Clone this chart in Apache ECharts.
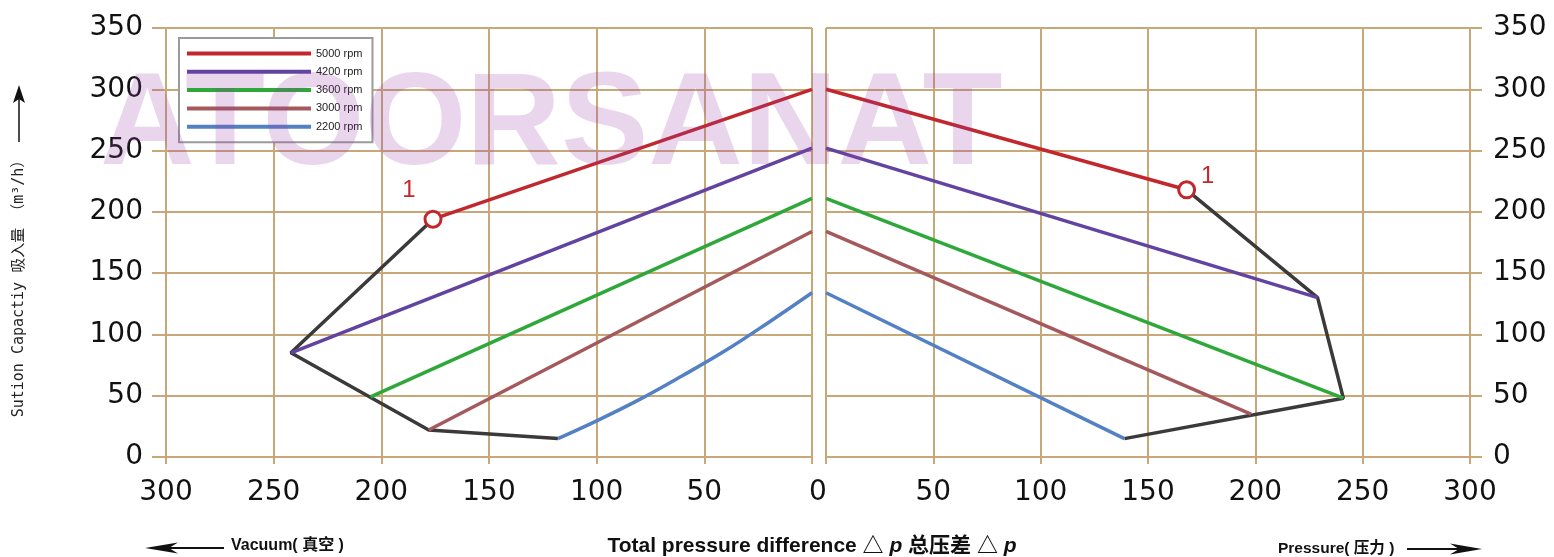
<!DOCTYPE html>
<html><head><meta charset="utf-8">
<script src="https://cdn.jsdelivr.net/npm/echarts@6/dist/echarts.min.js"></script>
<style>html,body{margin:0;padding:0;background:#fff}#c{width:1554px;height:557px}</style>
</head><body><div id="c"></div>
<script>
// ---- data ----
const xTickLabels = ['0','50','100','150','200','250','300'];
const yTickLabels = ['0','50','100','150','200','250','300','350'];
const rpmNames = ['5000 rpm','4200 rpm','3600 rpm','3000 rpm','2200 rpm'];
// Vacuum side (left panel): [vacuum, suction capacity m3/h]
const vac5000 = [[0,300],[176,194]];
const vac4200 = [[0,252],[242,85]];
const vac3600 = [[0,211],[205,49]];
const vac3000 = [[0,184],[178,22]];
const vac2200 = [[0,134],[20,110],[40,87],[60,66.5],[80,47],[100,29.5],[118,15]];
const vacLimit = [[176,194],[242,85],[178,22],[118,15]];
const vacPoint1 = [[176,194]];
// Pressure side (right panel): [pressure, suction capacity m3/h]
const prs5000 = [[0,300],[168,218]];
const prs4200 = [[0,252],[229,130]];
const prs3600 = [[0,211],[241,48]];
const prs3000 = [[0,184],[198,35]];
const prs2200 = [[0,134],[139,15]];
const prsLimit = [[168,218],[229,130],[241,48],[139,15]];
const prsPoint1 = [[168,218]];

// ---- styles ----
const GRID_C = '#c9a878';
const COLORS = ['#c1272d','#6244a0','#2ea83a','#a45a5c','#5480c4'];
const LIMIT_C = '#3b3939';
const RED = '#c1272d';
const TICK_FONT = 'DejaVu Sans';
const ls = {color: GRID_C, width: 2};

function line(name, data, color, side, smooth) {
  return {name, type:'line', xAxisIndex:side, yAxisIndex:side, data, symbol:'none', showSymbol:false,
    smooth: smooth || false, lineStyle:{color, width:3.5}, itemStyle:{color}, z:3, animation:false, silent:true};
}
function limit(data, side) {
  return {type:'line', xAxisIndex:side, yAxisIndex:side, data, symbol:'none', showSymbol:false,
    lineStyle:{color:LIMIT_C, width:3.5}, itemStyle:{color:LIMIT_C}, z:2, animation:false, silent:true};
}
function point(data, side, offset) {
  return {type:'scatter', xAxisIndex:side, yAxisIndex:side, data, symbol:'circle', symbolSize:16, z:4,
    itemStyle:{color:'#fff', borderColor:RED, borderWidth:3, opacity:1}, animation:false, silent:true,
    label:{show:true, formatter:'1', position:'inside', offset, color:RED, fontSize:24, fontFamily:'Liberation Sans'}};
}
function xAxis(idx, inverse) {
  return {gridIndex:idx, type:'value', min:0, max:300, interval:50, inverse,
    axisLine:{show:true, onZero:false, lineStyle:ls},
    axisTick:{show:true, length:7, lineStyle:ls},
    splitLine:{show:true, lineStyle:ls},
    axisLabel:{margin:22, fontSize:28, color:'#111', fontFamily:TICK_FONT,
      formatter: v => { const t = xTickLabels[Math.round(v/50)]; if (v===0) return idx===0 ? '' : '{z|'+t+'}'; return t; },
      rich:{z:{fontSize:28, color:'#111', fontFamily:TICK_FONT, padding:[0,16,0,0]}}}};
}
function yAxis(idx, pos, tickLen) {
  return {gridIndex:idx, type:'value', min:0, max:350, interval:50, position:pos,
    axisLine:{show:true, onZero:false, lineStyle:ls},
    axisTick:{show:true, length:tickLen, lineStyle:ls},
    splitLine:{show:true, lineStyle:ls},
    axisLabel:{margin:23, fontSize:28, color:'#111', fontFamily:TICK_FONT,
      formatter: v => yTickLabels[Math.round(v/50)]}};
}

const chart = echarts.init(document.getElementById('c'));
const txtFont = 'Liberation Sans, Arial, Noto Sans CJK SC, sans-serif';
chart.setOption({
  animation:false,
  backgroundColor:'#fff',
  grid:[{left:166, right:742, top:28, bottom:100, outerBoundsMode:'none'},
        {left:826, right:84, top:28, bottom:100, outerBoundsMode:'none'}],
  xAxis:[xAxis(0,true), xAxis(1,false)],
  yAxis:[yAxis(0,'left',14), yAxis(1,'right',12)],
  legend:{data:rpmNames, orient:'vertical', left:179, top:38, itemWidth:124, itemHeight:4, itemGap:5.3,
    icon:'rect', padding:[9,10,9,8], borderColor:'#9a9a9a', borderWidth:2, backgroundColor:'#fff',
    itemTextGap:3, selectedMode:false,
    textStyle:{fontSize:11, color:'#222', fontFamily:'Liberation Sans', lineHeight:13}},
  series:[
    limit(vacLimit,0), limit(prsLimit,1),
    line(rpmNames[0], vac5000, COLORS[0], 0), line(rpmNames[1], vac4200, COLORS[1], 0),
    line(rpmNames[2], vac3600, COLORS[2], 0), line(rpmNames[3], vac3000, COLORS[3], 0),
    line(rpmNames[4], vac2200, COLORS[4], 0, 0.4),
    line(rpmNames[0], prs5000, COLORS[0], 1), line(rpmNames[1], prs4200, COLORS[1], 1),
    line(rpmNames[2], prs3600, COLORS[2], 1), line(rpmNames[3], prs3000, COLORS[3], 1),
    line(rpmNames[4], prs2200, COLORS[4], 1),
    point(vacPoint1, 0, [-24,-29]), point(prsPoint1, 1, [21,-13])
  ],
  graphic:[
    // vertical axis name
    {type:'text', x:19, y:285, rotation:Math.PI/2, z:10,
      style:{text:'Sution Capactiy 吸入量 （m³/h）', font:'15px "DejaVu Sans Mono", "Noto Sans CJK SC", monospace',
        fill:'#222', textAlign:'center', textVerticalAlign:'middle', align:'center', verticalAlign:'middle'}},
    {type:'line', z:10, shape:{x1:19, y1:142, x2:19, y2:98}, style:{stroke:'#111', lineWidth:1.5}},
    {type:'polygon', z:10, shape:{points:[[19,85],[25,103],[19,99],[13,103]]}, style:{fill:'#111'}},
    // bottom texts
    {type:'line', z:10, shape:{x1:168, y1:548, x2:224, y2:548}, style:{stroke:'#111', lineWidth:2}},
    {type:'polygon', z:10, shape:{points:[[145,548],[178,542.5],[169,548],[178,553.5]]}, style:{fill:'#111'}},
    {type:'text', x:231, y:546, z:10, style:{text:'Vacuum( 真空 )', font:'bold 16px '+txtFont, fill:'#111',
      textAlign:'left', textVerticalAlign:'middle', align:'left', verticalAlign:'middle'}},
    {type:'text', x:812, y:546, z:10, style:{text:'{b|Total pressure difference △ }{i|p}{b| 总压差 △ }{i|p}',
      textAlign:'center', textVerticalAlign:'middle', align:'center', verticalAlign:'middle',
      rich:{b:{font:'bold 21px '+txtFont, fill:'#111', color:'#111'}, i:{font:'italic bold 21px '+txtFont, fill:'#111', color:'#111'}}}},
    {type:'text', x:1278, y:549, z:10, style:{text:'Pressure( 压力 )', font:'bold 15.5px '+txtFont, fill:'#111',
      textAlign:'left', textVerticalAlign:'middle', align:'left', verticalAlign:'middle'}},
    {type:'line', z:10, shape:{x1:1407, y1:549, x2:1460, y2:549}, style:{stroke:'#111', lineWidth:2}},
    {type:'polygon', z:10, shape:{points:[[1482,549],[1450,543.5],[1459,549],[1450,554.5]]}, style:{fill:'#111'}},
    // watermark overlay
    {type:'text', x:100, y:128, z:100, scaleX:1.0, silent:true,
      style:{text:'ATOORSANAT', font:'bold 131px Liberation Sans, Arial, sans-serif', fill:'rgba(150,60,170,0.21)',
        textAlign:'left', textVerticalAlign:'middle', align:'left', verticalAlign:'middle'}}
  ]
});
</script></body></html>
